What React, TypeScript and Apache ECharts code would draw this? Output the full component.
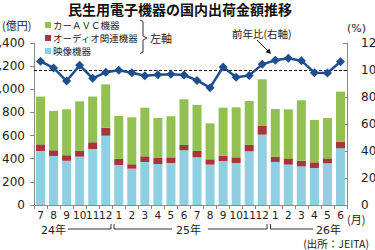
import React, { useEffect, useRef } from "react";
import * as echarts from "echarts";

// 月ラベル（24年7月〜26年6月）
const months = [
  "7", "8", "9", "10", "11", "12",
  "1", "2", "3", "4", "5", "6", "7", "8", "9", "10", "11", "12",
  "1", "2", "3", "4", "5", "6",
];

// 映像機器（億円）
const videoValues = [467, 424, 383, 418, 484, 599, 346, 314, 372, 354, 363, 473, 412, 349, 380, 363, 464, 608, 372, 349, 334, 320, 360, 490];
// オーディオ関連機器（億円）
const audioValues = [57, 49, 46, 49, 58, 70, 52, 38, 49, 52, 49, 46, 55, 46, 44, 49, 55, 75, 46, 54, 49, 49, 43, 58];
// カーＡＶＣ機器（億円）
const carAvcValues = [413, 340, 398, 429, 395, 374, 371, 406, 420, 346, 355, 395, 398, 311, 417, 432, 380, 403, 412, 424, 522, 366, 349, 432];
// 前年比（%）
const yoyValues = [106.4, 101.5, 91.8, 103.5, 93.8, 98.3, 99.8, 98.0, 95.8, 96.5, 96.8, 96.3, 92.3, 86.9, 102.2, 94.6, 96.0, 104.2, 107.2, 108.7, 106.9, 98.0, 97.8, 106.2];

const NUM_FONT = "'DejaVu Sans', 'Noto Sans CJK JP', sans-serif";
const JP_FONT = "'Noto Sans CJK JP', sans-serif";

const GREEN = "#93c052";
const RED = "#a9343a";
const BLUE = "#8fcfe1";
const NAVY = "#1f4e8f";
const AXIS = "#8a8a8a";
const INK = "#222";

export default function App() {
  const ref = useRef<HTMLDivElement>(null);

  useEffect(() => {
    if (!ref.current) return;
    const chart = echarts.init(ref.current, undefined, { renderer: "svg" });

    const bracket = { stroke: "#333", lineWidth: 1, fill: "none" };
    const txt = (x: number, y: number, text: string, fontSize: number, font: string, extra: any = {}) => ({
      type: "text",
      x,
      y,
      style: { text, fontSize, fontFamily: font, fill: INK, textVerticalAlign: "middle", ...extra },
    });

    chart.setOption({
      animation: false,
      grid: { left: 34, right: 28, top: 43, bottom: 45, containLabel: false, outerBoundsMode: "none" },
      legend: {
        left: 45,
        top: 19,
        padding: 0,
        orient: "vertical",
        itemWidth: 6,
        itemHeight: 6,
        itemGap: 1,
        icon: "rect",
        data: ["カーＡＶＣ機器", "オーディオ関連機器", "映像機器"],
        textStyle: { fontSize: 9.5, fontFamily: JP_FONT, color: INK, lineHeight: 12, padding: [0, 0, 0, -3] },
        selectedMode: false,
      },
      xAxis: {
        type: "category",
        data: months,
        axisLine: { lineStyle: { color: AXIS, width: 1 } },
        axisTick: { show: true, interval: 0, length: 4, lineStyle: { color: AXIS } },
        axisLabel: { interval: 0, fontSize: 10.5, fontFamily: NUM_FONT, color: INK, margin: 5 },
      },
      yAxis: [
        {
          type: "value",
          min: 0,
          max: 1400,
          interval: 200,
          axisLine: { show: true, lineStyle: { color: AXIS, width: 1 } },
          axisTick: { show: true, length: 4, lineStyle: { color: AXIS } },
          axisLabel: { fontSize: 12, fontFamily: NUM_FONT, color: INK, margin: 9 },
          splitLine: { show: false },
        },
        {
          type: "value",
          min: 0,
          max: 120,
          interval: 20,
          axisLine: { show: true, lineStyle: { color: AXIS, width: 1 } },
          axisTick: { show: true, inside: true, length: 4, lineStyle: { color: AXIS } },
          axisLabel: { fontSize: 12, fontFamily: NUM_FONT, color: INK, margin: 14 },
          splitLine: { show: false },
        },
      ],
      series: [
        {
          name: "映像機器",
          type: "bar",
          stack: "total",
          barWidth: 9,
          data: videoValues,
          itemStyle: { color: BLUE },
        },
        {
          name: "オーディオ関連機器",
          type: "bar",
          stack: "total",
          barWidth: 9,
          data: audioValues,
          itemStyle: { color: RED },
        },
        {
          name: "カーＡＶＣ機器",
          type: "bar",
          stack: "total",
          barWidth: 9,
          data: carAvcValues,
          itemStyle: { color: GREEN },
        },
        {
          name: "前年比",
          type: "line",
          yAxisIndex: 1,
          data: yoyValues,
          symbol: "diamond",
          symbolSize: 9,
          lineStyle: { color: NAVY, width: 2.5 },
          itemStyle: { color: NAVY },
          z: 5,
          markLine: {
            silent: true,
            symbol: "none",
            label: { show: false },
            lineStyle: { color: "#111", type: [3, 2], width: 1 },
            data: [{ yAxis: 100 }],
          },
        },
      ],
      graphic: [
        txt(180, 9, "民生用電子機器の国内出荷金額推移", 14, JP_FONT, { fontWeight: "bold", textAlign: "center", fill: "#111" }),
        txt(2, 25, "(億円)", 11, JP_FONT),
        txt(347, 28, "(%)", 11, NUM_FONT),
        {
          type: "polyline",
          shape: { points: [[140, 20], [143, 21.5], [143, 36], [147, 38], [143, 40], [143, 52], [140, 53.5]] },
          style: bracket,
        },
        txt(150, 38, "左軸", 11, JP_FONT),
        txt(232, 33, "前年比(右軸)", 10.5, JP_FONT),
        { type: "line", shape: { x1: 257, y1: 40, x2: 268, y2: 51 }, style: { stroke: "#111", lineWidth: 1 } },
        { type: "polygon", shape: { points: [[271, 54], [265.6, 52.2], [269.4, 48.4]] }, style: { fill: "#111" } },
        txt(41, 230, "24年", 11, NUM_FONT),
        { type: "polyline", shape: { points: [[68, 229], [111, 229], [111, 224]] }, style: bracket },
        { type: "polyline", shape: { points: [[114, 224], [114, 229], [172, 229]] }, style: bracket },
        txt(176, 230, "25年", 11, NUM_FONT),
        { type: "polyline", shape: { points: [[208, 229], [267, 229], [267, 224]] }, style: bracket },
        { type: "polyline", shape: { points: [[270.5, 224], [270.5, 229], [313, 229]] }, style: bracket },
        txt(316, 230, "26年", 11, NUM_FONT),
        txt(347, 218.5, "(月)", 11, JP_FONT),
        txt(369, 243, "(出所：JEITA)", 10.5, JP_FONT, { textAlign: "right" }),
      ],
    });

    return () => chart.dispose();
  }, []);

  return (
    <div
      ref={ref}
      style={{ position: "fixed", left: 0, top: 0, width: 375, height: 250, background: "#fff" }}
    />
  );
}
